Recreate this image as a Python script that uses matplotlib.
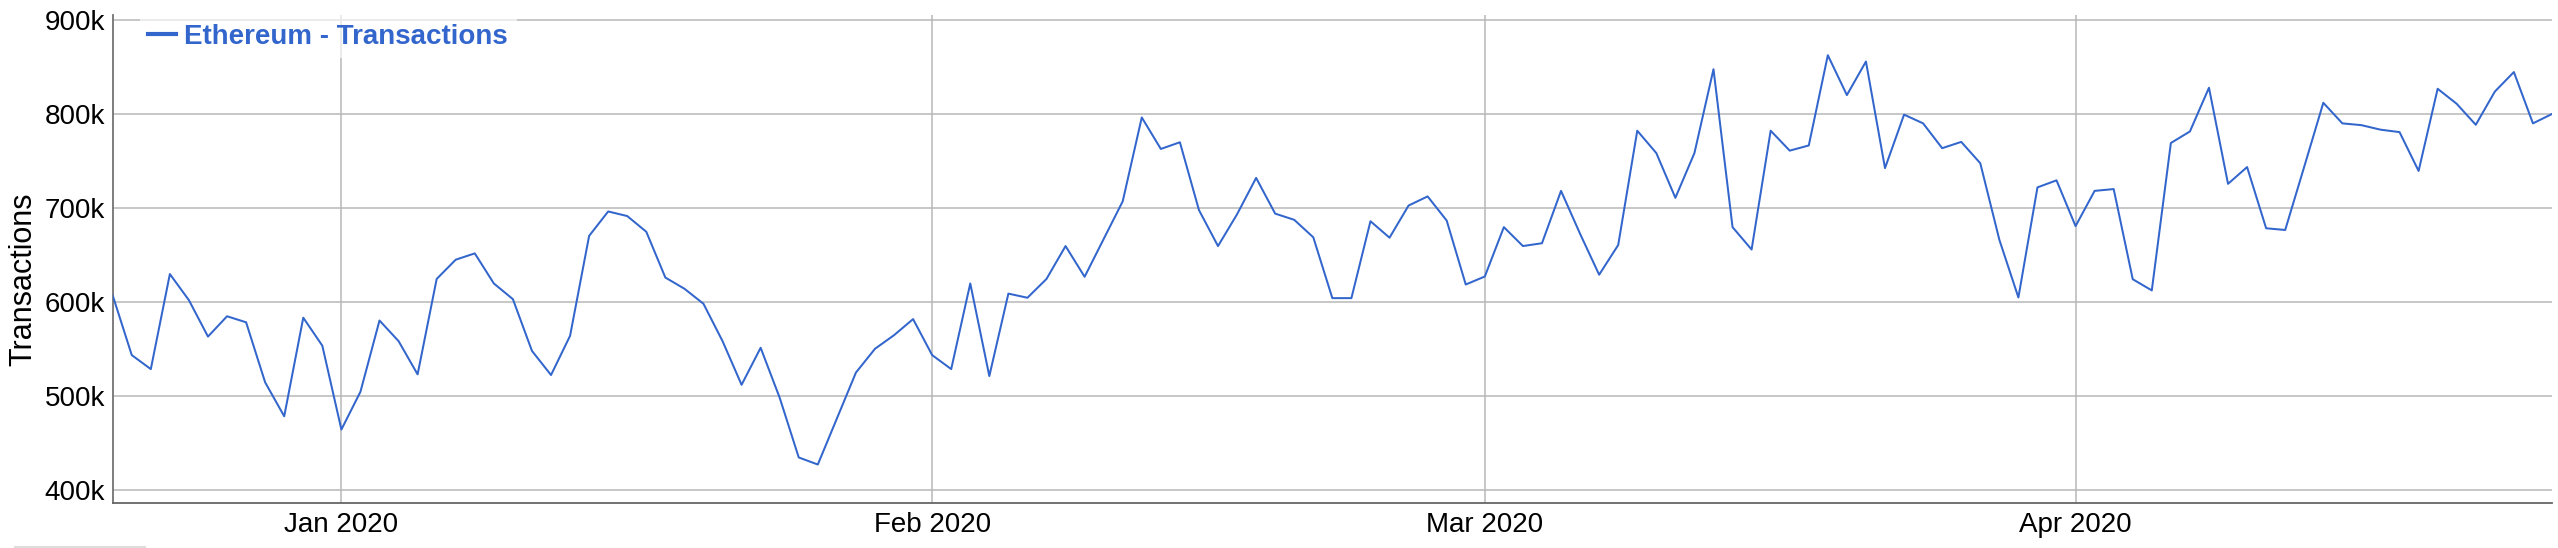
import numpy as np
import pandas as pd
import matplotlib
matplotlib.use("Agg")
import matplotlib.pyplot as plt
import matplotlib.dates as mdates
from matplotlib.ticker import FuncFormatter
from matplotlib.lines import Line2D

# daily Ethereum transactions, in thousands, Dec 20 2019 .. Apr 26 2020
dec_2019 = [607, 543.5, 528.6, 629.7, 601.9, 563.2, 584.8, 578.4, 514.5, 478.4, 583.3, 553.5]
jan_2020 = [464.3, 504.5, 580.3, 558.4, 523, 624.5, 645, 651.7, 619.7, 603, 548, 522.3, 564,
            670.3, 696.3, 691.4, 674.7, 626, 614.1, 598.1, 558.4, 511.9, 551.3, 498.1, 434.6,
            427.1, 476, 524.9, 550.2, 564.7, 581.8]
feb_2020 = [543.5, 528.6, 619.7, 521.2, 608.9, 604.5, 624.5, 659.5, 626.8, 666.9, 707.1, 796.3,
            762.8, 769.9, 697.8, 659.5, 693.3, 732, 694, 687.4, 668.8, 604.1, 604.1, 685.9,
            668.4, 702.6, 712.3, 686.6, 618.6]
mar_2020 = [627.1, 679.6, 659.5, 662.5, 718.2, 672.5, 629, 660.6, 782.2, 758.4, 710.8, 758.4,
            847.6, 679.6, 655.8, 782.2, 761, 766.5, 862.5, 820.1, 855.8, 742.4, 799.3, 790,
            763.6, 770.3, 747.6, 666.2, 604.8, 721.9, 729.4]
apr_2020 = [680.7, 718.2, 720.1, 624.2, 612.3, 769.1, 781.4, 827.9, 725.7, 743.5, 678.4, 676.6,
            744, 811.9, 790, 788.1, 783.3, 780.7, 739.4, 826.8, 810.8, 788.5, 823.8, 844.6,
            790, 800]

series_label = "Ethereum - Transactions"
y_label = "Transactions"
y_ticks = [400000, 500000, 600000, 700000, 800000, 900000]

values = np.array(dec_2019 + jan_2020 + feb_2020 + mar_2020 + apr_2020) * 1000
dates = pd.date_range("2019-12-20", periods=len(values), freq="D")

plt.rcParams["font.family"] = ["Liberation Sans", "DejaVu Sans"]

W, H = 2558, 548
fig = plt.figure(figsize=(W / 100, H / 100), dpi=100)
# plot area in pixels: x 112.7..2552, y 14.7..503.3
ax = fig.add_axes([112.7 / W, 1 - 503.3 / H, (2552 - 112.7) / W, (503.3 - 14.7) / H])

ax.plot(dates, values, color="#3366CC", lw=1.45, label=series_label, zorder=3)

ax.set_xlim(dates[0], dates[-1])
ax.set_ylim(385850, 905600)
ax.set_yticks(y_ticks)
ax.yaxis.set_major_formatter(FuncFormatter(lambda v, p: f"{int(v / 1000)}k"))
ax.xaxis.set_major_locator(mdates.MonthLocator())
ax.xaxis.set_major_formatter(mdates.DateFormatter("%b %Y"))

ax.grid(True, color="#b8b8b8", lw=1.1)
ax.set_axisbelow(True)
ax.tick_params(axis="both", length=0, labelsize=20, colors="black")
ax.tick_params(axis="y", pad=5.3)
ax.tick_params(axis="x", pad=6.5)

for s in ["top", "right"]:
    ax.spines[s].set_visible(False)
ax.spines["left"].set_color("#737373")
ax.spines["left"].set_linewidth(1.3)
ax.spines["bottom"].set_color("#666666")
ax.spines["bottom"].set_linewidth(1.3)

ax.set_ylabel(y_label, fontsize=22)
ax.yaxis.set_label_coords(-0.0306, 0.458)

leg = ax.legend(loc="upper left", bbox_to_anchor=(0.011, 1.0), borderaxespad=0,
                borderpad=0.32, frameon=True, fancybox=False, handlelength=0.985,
                handletextpad=0.31, prop={"size": 20, "weight": "bold"},
                labelcolor="#3366CC")
leg.get_frame().set_facecolor("white")
leg.get_frame().set_alpha(0.65)
leg.get_frame().set_linewidth(0)
for h in leg.legend_handles:
    h.set_linewidth(3)

fig.add_artist(Line2D([15 / W, 145 / W], [1 - 547 / H] * 2, color="#dddddd", lw=1.5))

fig.savefig("out.png", dpi=100)
plt.close(fig)
